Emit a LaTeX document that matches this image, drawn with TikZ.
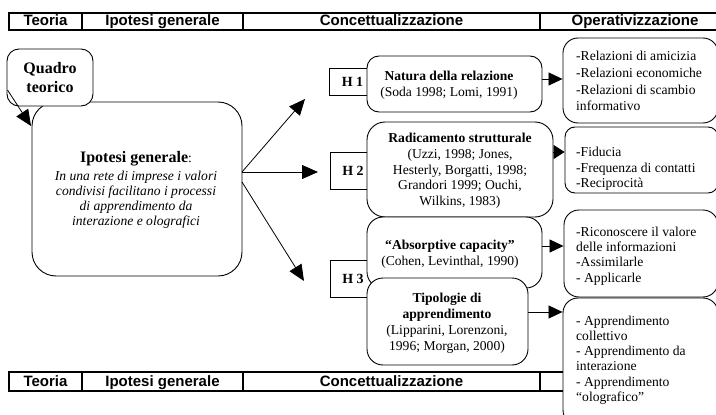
\documentclass[tikz,border=0pt]{standalone}
\usepackage{fontspec}
\setmainfont{Liberation Serif}
\newfontfamily\arialfont{Liberation Sans}
\usetikzlibrary{arrows.meta}
\begin{document}
\begin{tikzpicture}[x=1pt,y=-1pt,
  hcell/.style={draw, line width=1.1pt, inner sep=0pt,
    font=\arialfont\bfseries\fontsize{15}{17}\selectfont,
    text height=11pt, text depth=2pt},
  rbox/.style={draw, line width=0.9pt, fill=white, rounded corners=#1, inner sep=0pt},
  sbox/.style={draw, line width=0.9pt, fill=white, inner sep=0pt,
    font=\bfseries\fontsize{14}{16}\selectfont},
  ctext/.style={inner sep=0pt, align=center, font=\fontsize{13.6}{#1}\selectfont},
  ltext/.style={inner sep=0pt, align=left, anchor=west, font=\fontsize{13.6}{#1}\selectfont},
  arr/.style={line width=0.8pt, -{Triangle[length=16pt,width=14pt]}},
  rarr/.style={line width=0.8pt, -{Triangle[length=14pt,width=13pt]}}
]
\useasboundingbox (0,0) rectangle (716,415);
\clip (0,0) rectangle (716,415);

% header bars
\node[hcell, minimum width=73pt,  minimum height=17pt] (t1) at (45.5,21.5) {Teoria};
\node[hcell, minimum width=161pt, minimum height=17pt] (t2) at (162.5,21.5) {Ipotesi generale};
\node[hcell, minimum width=297pt, minimum height=17pt] (t3) at (391.5,21.5) {Concettualizzazione};
\node[hcell, minimum width=190pt, minimum height=17pt] (t4) at (635,21.5) {Operativizzazione};

\node[hcell, minimum width=73pt,  minimum height=19pt] (b1) at (45.5,381.5) {Teoria};
\node[hcell, minimum width=161pt, minimum height=19pt] (b2) at (162.5,381.5) {Ipotesi generale};
\node[hcell, minimum width=297pt, minimum height=19pt] (b3) at (391.5,381.5) {Concettualizzazione};
\node[hcell, minimum width=190pt, minimum height=19pt] (b4) at (635,381.5) {};

% general hypothesis
\node[rbox=24pt, minimum width=210pt, minimum height=174pt] (ig) at (137,189) {};
\node[ctext=15] (igtxt) at (136,190)
  {{\fontsize{16}{18}\selectfont\bfseries Ipotesi generale}:\\[2.5pt]
   \itshape In una rete di imprese i valori\\
   \itshape condivisi facilitano i processi\\
   \itshape di apprendimento da\\
   \itshape interazione e olografici};

% theory box
\node[rbox=12pt, minimum width=86pt, minimum height=57pt,
  align=center, font=\bfseries\fontsize{16}{19}\selectfont] (qt) at (50,77.5) {Quadro\\teorico};
\coordinate (qs) at (7.5,90);
\coordinate (qe) at (31,126);
\draw[arr] (qs) -- (qe);

% H boxes
\node[sbox, minimum width=47pt, minimum height=27pt] (h1) at (352.5,81.5) {H 1};
\node[sbox, minimum width=46pt, minimum height=37pt] (h2) at (353,170.5) {H 2};
\node[sbox, minimum width=46pt, minimum height=37pt] (h3) at (353,278.5) {H 3};

% concept boxes
\node[rbox=12pt, minimum width=175pt, minimum height=56pt] (nat) at (454.5,84) {};
\node[ctext=16] (nattxt) at (449,85)
  {\textbf{Natura della relazione}\\(Soda 1998; Lomi, 1991)};

\node[rbox=18pt, minimum width=186pt, minimum height=95pt] (rad) at (460,169.5) {};
\node[ctext=15.6] (radtxt) at (460,170.5)
  {\textbf{Radicamento strutturale}\\[1pt](Uzzi, 1998; Jones,\\Hesterly, Borgatti, 1998;\\Grandori 1999; Ouchi,\\Wilkins, 1983)};

\node[rbox=16pt, minimum width=175pt, minimum height=71pt] (abs) at (454.5,252.5) {};
\node[ctext=16] (abstxt) at (450,254)
  {\textbf{“Absorptive capacity”}\\(Cohen, Levinthal, 1990)};

\node[rbox=16pt, minimum width=161pt, minimum height=87pt] (tip) at (447.5,321.5) {};
\node[ctext=16] (tiptxt) at (447,323)
  {\textbf{Tipologie di}\\\textbf{apprendimento}\\(Lipparini, Lorenzoni,\\1996; Morgan, 2000)};

% operational boxes
\node[rbox=15pt, minimum width=155pt, minimum height=85pt] (rel) at (640.5,80.5) {};
\node[ltext=16.7] (reltxt) at (576,81)
  {-Relazioni di amicizia\\-Relazioni economiche\\-Relazioni di scambio\\informativo};

\node[rbox=10pt, minimum width=153pt, minimum height=66pt] (fid) at (641.5,160) {};
\node[ltext=15.5] (fidtxt) at (576,169)
  {-Fiducia\\-Frequenza di contatti\\-Reciprocità};

\node[rbox=15pt, minimum width=154pt, minimum height=87pt] (ric) at (641,253.5) {};
\node[ltext=15.3] (rictxt) at (576,256)
  {-Riconoscere il valore\\delle informazioni\\-Assimilarle\\- Applicarle};

\node[rbox=15pt, minimum width=155pt, minimum height=127pt] (app) at (640.5,361.5) {};
\node[ltext=15.2] (apptxt) at (576,360)
  {- Apprendimento\\collettivo\\- Apprendimento da\\interazione\\- Apprendimento\\“olografico”};

% arrows from general hypothesis
\coordinate (s1) at (242,172);
\coordinate (s3) at (242,182);
\coordinate (e1) at (305,99);
\coordinate (e2) at (318,172);
\coordinate (e3) at (304,281);
\draw[arr] (s1) -- (e1);
\draw[arr] (s1) -- (e2);
\draw[arr] (s3) -- (e3);

% arrows to operationalisation
\draw[rarr] ([yshift=5pt]nat.east) -- ([yshift=5pt]nat.east -| rel.west);
\draw[line width=0.8pt, -{Triangle[length=11pt,width=14pt]}] ([yshift=17.5pt]rad.east) -- ([yshift=17.5pt]rad.east -| fid.west);
\draw[rarr] ([yshift=6.5pt]abs.east) -- ([yshift=6.5pt]abs.east -| ric.west);
\draw[rarr] ([yshift=9.5pt]tip.east) -- ([yshift=9.5pt]tip.east -| app.west);
\end{tikzpicture}
\end{document}
